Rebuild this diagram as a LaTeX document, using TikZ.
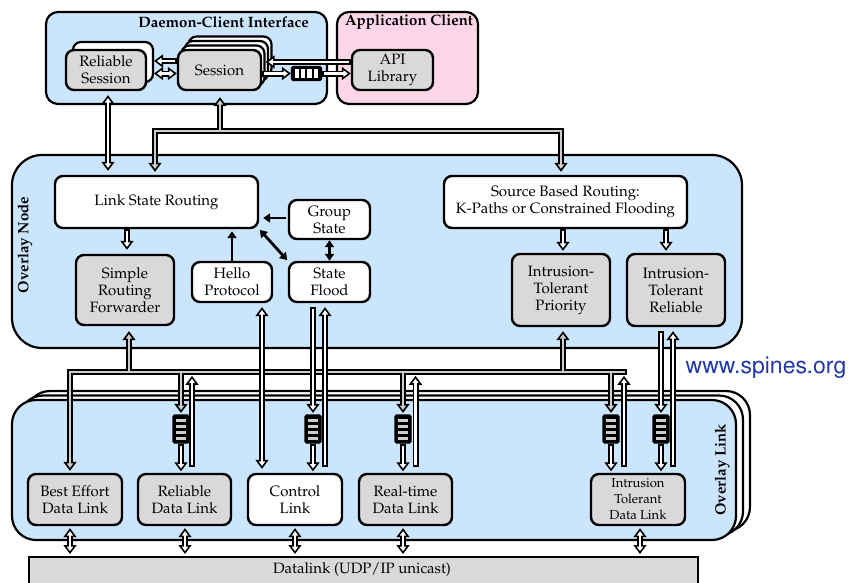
\documentclass[tikz,border=0pt]{standalone}
\usepackage[T1]{fontenc}
\usepackage{mathpazo}
\usetikzlibrary{arrows.meta,calc}

\definecolor{nodeblue}{RGB}{204,229,255}
\definecolor{clientpink}{RGB}{255,214,232}
\definecolor{boxgray}{RGB}{217,217,217}
\definecolor{busgray}{RGB}{205,205,205}
\definecolor{urlblue}{RGB}{32,56,168}

\newcommand\lblfont{\fontsize{15}{17}\selectfont}
\newcommand\smalllblfont{\fontsize{13}{16}\selectfont}
\newcommand\titlefont{\fontsize{15}{17}\selectfont\bfseries}

\tikzset{
  tipw/.tip={Triangle[length=9pt,width=13pt,line width=1.6pt,fill=white]},
  tipg/.tip={Triangle[length=9pt,width=13pt,line width=1.6pt,fill=busgray]},
  tipb/.tip={Triangle[length=7pt,width=9pt]},
  region/.style={draw, line width=2.2pt, fill=nodeblue},
  box/.style={draw, line width=2.4pt, rounded corners=8pt, align=center, inner sep=0pt, font=\lblfont},
  gbox/.style={box, fill=boxgray},
  wbox/.style={box, fill=white},
  ghost/.style={draw, line width=2.2pt, rounded corners=8pt, fill=white, inner sep=0pt},
  % hollow pipe with a head at its end
  pend/.style={line width=6pt, -tipw, shorten >=#1,
    postaction={draw=white, line width=2.2pt, -, shorten <=2pt, shorten >=#1+6pt}},
  pend/.default=3pt,
  % same, leaving a gap at its start
  pendg/.style={line width=6pt, -tipw, shorten <=4pt, shorten >=#1,
    postaction={draw=white, line width=2.2pt, -, shorten <=6pt, shorten >=#1+6pt}},
  pendg/.default=3pt,
  % hollow pipe with heads at both ends
  pboth/.style={line width=6pt, tipw-tipw, shorten <=#1, shorten >=#1,
    postaction={draw=white, line width=2.2pt, -, shorten <=#1+6pt, shorten >=#1+6pt}},
  pboth/.default=2pt,
  busout/.style={line width=6pt, draw=black},
  busin/.style={line width=2.2pt, draw=busgray},
  blk/.style={line width=2.8pt, -tipb},
  blkb/.style={line width=2.8pt, tipb-tipb},
  vq/.style={draw, line width=1.2pt, fill=black, rounded corners=1.5pt,
    minimum width=16pt, minimum height=28pt, inner sep=0pt,
    path picture={\foreach \k in {0,...,3}{\fill[busgray, sharp corners]
      ($(path picture bounding box.north west)+(3.2,4.2+6*\k)$) rectangle +(9.6,2.6);}}},
  hq/.style={draw, line width=1.2pt, fill=black, rounded corners=1.5pt,
    minimum width=30pt, minimum height=14pt, inner sep=0pt,
    path picture={\foreach \k in {0,...,3}{\fill[white, sharp corners]
      ($(path picture bounding box.north west)+(3.2+6.3*\k,2.6)$) rectangle +(4.4,8.8);}}},
}

\begin{document}
\begin{tikzpicture}[x=1pt, y=-1pt, line join=miter]
\useasboundingbox (0,0) rectangle (852,582);

% ---------------- daemon-client interface and application client
\draw[region, rounded corners=12pt] (46,12) rectangle (327,104);
\draw[draw, line width=2.2pt, fill=clientpink, rounded corners=12pt] (337,12) rectangle (478,104);
\node[font=\titlefont, anchor=east, inner sep=0pt] (dcititle) at (309,22) {Daemon-Client Interface};
\node[font=\titlefont, inner sep=0pt] (apptitle) at (409,22) {Application Client};

\node[ghost, minimum width=80pt, minimum height=40pt] (rsb) at (113,62) {};
\node[gbox, minimum width=80pt, minimum height=40pt] (rs) at (106,70) {Reliable\\Session};
\node[ghost, minimum width=83pt, minimum height=40pt] (ses3) at (230,56.5) {};
\node[ghost, minimum width=83pt, minimum height=40pt] (ses2) at (226.5,61) {};
\node[ghost, minimum width=83pt, minimum height=40pt] (ses1) at (223,65.5) {};
\node[gbox, minimum width=83pt, minimum height=40pt] (ses) at (219.5,70) {Session};
\node[gbox, minimum width=81pt, minimum height=40pt] (api) at (392.5,70) {API\\Library};
\node[hq] (hq) at (306.5,73.5) {};

\draw[pend=0pt] (ses.west |- 0,61) -- (rsb.east |- 0,61);
\draw[pboth=0pt] (rsb.east |- 0,73.5) -- (ses.west |- 0,73.5);
\draw[pend=0pt] (api.west |- 0,62) -- (ses1.east |- 0,62);
\draw[pend=0pt] (ses.east |- hq.west) -- (hq.west);
\draw[pend=0pt] (hq.east) -- (api.west |- hq.east);

% ---------------- overlay node
\draw[region, rounded corners=30pt] (12,155) rectangle (742,348);
\node[rotate=90, font=\titlefont, inner sep=0pt] (ontitle) at (25,245) {Overlay Node};

\node[wbox, minimum width=203pt, minimum height=52pt] (lsr) at (156.5,202) {Link State Routing};
\node[wbox, minimum width=81pt, minimum height=39pt] (gs) at (329.5,219.5) {Group\\State};
\node[wbox, minimum width=81pt, minimum height=40pt] (sf) at (329.5,282) {State\\Flood};
\node[wbox, minimum width=80pt, minimum height=40pt] (hp) at (232,282) {Hello\\Protocol};
\node[gbox, minimum width=98pt, minimum height=70pt] (srf) at (125,290) {Simple\\Routing\\Forwarder};
\node[wbox, minimum width=243pt, minimum height=52pt] (sbr) at (565.5,202) {Source Based Routing:\\K-Paths or Constrained Flooding};
\node[gbox, minimum width=98pt, minimum height=72pt] (itp) at (561,290) {Intrusion-\\Tolerant\\Priority};
\node[gbox, minimum width=98pt, minimum height=72pt] (itr) at (676,290) {Intrusion-\\Tolerant\\Reliable};

\draw[pend=4pt] (127,0 |- lsr.south) -- (127,0 |- srf.north);
\draw[blk, shorten <=2pt, shorten >=4pt] (gs.west |- 0,218) -- (lsr.east |- 0,218);
\draw[blk, shorten >=2pt] (hp.north) -- (hp.north |- lsr.south);
\draw[blkb, shorten <=1pt, shorten >=1pt] (lsr.south east) -- (sf.north west);
\draw[blkb] (gs.south) -- (sf.north);
\draw[pend=2pt] (563,0 |- sbr.south) -- (563,0 |- itp.north);
\draw[pend=2pt] (666,0 |- sbr.south) -- (666,0 |- itr.north);

% ---------------- daemon-client links into the overlay node
\draw[pboth=4pt] (108,0 |- rs.south) -- (108,0 |- lsr.north);
\draw[busout, tipg-tipg, shorten <=3pt, shorten >=3pt]
  (155,0 |- lsr.north) -- (155,131) -- (561,131) -- (561,0 |- sbr.north);
\draw[busout, -tipg, shorten >=6pt] (220,131) -- (220,0 |- ses.south);
\draw[busin, shorten <=9pt, shorten >=9pt]
  (155,0 |- lsr.north) -- (155,131) -- (561,131) -- (561,0 |- sbr.north);
\draw[busin, shorten >=12pt] (220,131) -- (220,0 |- ses.south);

% ---------------- overlay links
\draw[draw, line width=2.2pt, fill=white, rounded corners=24pt] (26,391) rectangle +(724,140);
\draw[draw, line width=2.2pt, fill=white, rounded corners=24pt] (19,395.5) rectangle +(724,140);
\draw[region, rounded corners=24pt] (12,400) rectangle (736,540);
\node[rotate=90, font=\titlefont, inner sep=0pt] (oltitle) at (722,470) {Overlay Link};

\node[gbox, minimum width=94pt, minimum height=51pt] (be) at (75,499.5) {Best Effort\\Data Link};
\node[gbox, minimum width=93pt, minimum height=51pt] (rdl) at (184.5,499.5) {Reliable\\Data Link};
\node[wbox, minimum width=94pt, minimum height=51pt] (cl) at (295,499.5) {Control\\Link};
\node[gbox, minimum width=93pt, minimum height=51pt] (rt) at (405.5,499.5) {Real-time\\Data Link};
\node[gbox, minimum width=94pt, minimum height=51pt, font=\smalllblfont] (itdl) at (638,499.5) {Intrusion\\Tolerant\\Data Link};

\node[draw, line width=2.2pt, fill=boxgray, minimum width=669pt, minimum height=40pt,
  anchor=north west, inner sep=0pt] (dl) at (28,556) {};
\node[font=\lblfont, inner sep=0pt] (dltext) at (362,570) {Datalink (UDP/IP unicast)};

\draw[pboth] (70,0 |- be.south) -- (70,0 |- dl.north);
\draw[pboth] (185,0 |- rdl.south) -- (185,0 |- dl.north);
\draw[pboth] (295,0 |- cl.south) -- (295,0 |- dl.north);
\draw[pboth] (403,0 |- rt.south) -- (403,0 |- dl.north);
\draw[pboth] (640,0 |- itdl.south) -- (640,0 |- dl.north);

% send queues
\node[vq] (q1) at (181,429) {};
\node[vq] (q2) at (313,429) {};
\node[vq] (q3) at (403,429) {};
\node[vq] (q4) at (611,429) {};
\node[vq] (q5) at (661,429) {};

% ---------------- forwarding bus between the node and its links
\draw[busout, tipg-, shorten <=2pt] (70,0 |- be.north) -- (70,372) -- (627,372);
\draw[busout, -tipg, shorten >=5pt] (129,372) -- (129,0 |- srf.south);
\draw[busout, -tipg, shorten >=1.5pt] (181,372) -- (q1.north);
\draw[busout, -tipg, shorten >=1.5pt] (403,372) -- (q3.north);
\draw[busout, -tipg, shorten >=4pt] (563,372) -- (563,0 |- itp.south);
\draw[busout, -tipg, shorten >=1.5pt] (611,372) -- (q4.north);
\draw[busin, shorten <=8pt, shorten >=2pt] (70,0 |- be.north) -- (70,372) -- (627,372);
\draw[busin, shorten >=11pt] (129,372) -- (129,0 |- srf.south);
\draw[busin, shorten >=7.5pt] (181,372) -- (q1.north);
\draw[busin, shorten >=7.5pt] (403,372) -- (q3.north);
\draw[busin, shorten >=10pt] (563,372) -- (563,0 |- itp.south);
\draw[busin, shorten >=7.5pt] (611,372) -- (q4.north);

% queues into their links
\draw[pend=1.5pt] (q1.south) -- (q1.south |- rdl.north);
\draw[pend=1.5pt] (q2.south) -- (q2.south |- cl.north);
\draw[pend=1.5pt] (q3.south) -- (q3.south |- rt.north);
\draw[pend=1.5pt] (q4.south) -- (q4.south |- itdl.north);
\draw[pend=1.5pt] (q5.south) -- (q5.south |- itdl.north);

% links back up to the bus
\draw[pend=0pt] ($(rdl.north)+(7.5,-6)$) -- ++(0,-91);
\draw[pend=0pt] ($(rt.north)+(10,-6)$) -- ++(0,-91);
\draw[pend=0pt] ($(itdl.north)+(-14,-6)$) -- ++(0,-91);

% control traffic passing over the bus
\draw[pboth=4pt] (262,0 |- hp.south) -- (262,0 |- cl.north);
\draw[pendg=1.5pt] (313,0 |- sf.south) -- (q2.north);
\draw[pend=4pt] ($(cl.north)+(30,-6)$) -- (325,0 |- sf.south);
\draw[pendg=1.5pt] (661,0 |- itr.south) -- (q5.north);
\draw[pend=4pt] ($(itdl.north)+(35,-6)$) -- (673,0 |- itr.south);

% ---------------- web address
\node[font=\fontfamily{phv}\fontsize{23}{26}\selectfont, text=urlblue, inner sep=0pt] (url) at (766,368) {www.spines.org};
\end{tikzpicture}
\end{document}
